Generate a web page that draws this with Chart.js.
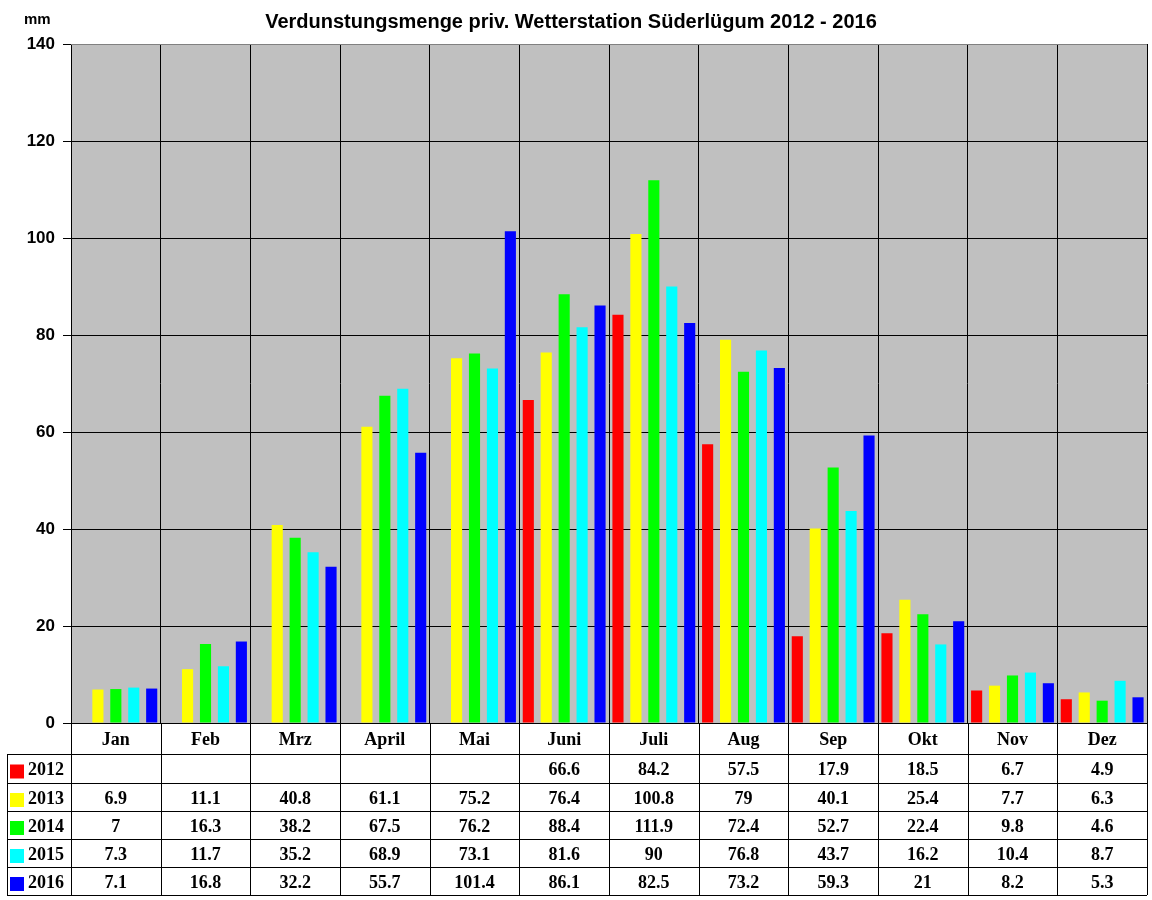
<!DOCTYPE html>
<html>
<head>
<meta charset="utf-8">
<script src="https://cdn.jsdelivr.net/npm/chart.js@4"></script>
<style>
  html, body { margin: 0; padding: 0; background: #fff; }
  #wrap { width: 1152px; height: 900px; }
</style>
</head>
<body>
<div id="wrap"><canvas id="chart" width="1152" height="900"></canvas></div>
<script>
const months = ['Jan', 'Feb', 'Mrz', 'April', 'Mai', 'Juni', 'Juli', 'Aug', 'Sep', 'Okt', 'Nov', 'Dez'];
const years = ['2012', '2013', '2014', '2015', '2016'];
const v2012 = [null, null, null, null, null, 66.6, 84.2, 57.5, 17.9, 18.5, 6.7, 4.9];
const v2013 = [6.9, 11.1, 40.8, 61.1, 75.2, 76.4, 100.8, 79, 40.1, 25.4, 7.7, 6.3];
const v2014 = [7, 16.3, 38.2, 67.5, 76.2, 88.4, 111.9, 72.4, 52.7, 22.4, 9.8, 4.6];
const v2015 = [7.3, 11.7, 35.2, 68.9, 73.1, 81.6, 90, 76.8, 43.7, 16.2, 10.4, 8.7];
const v2016 = [7.1, 16.8, 32.2, 55.7, 101.4, 86.1, 82.5, 73.2, 59.3, 21, 8.2, 5.3];
const colors = ['#FF0000', '#FFFF00', '#00FF00', '#00FFFF', '#0000FF'];
const yTicks = [0, 20, 40, 60, 80, 100, 120, 140];

const series = [v2012, v2013, v2014, v2015, v2016];
const titleText = 'Verdunstungsmenge priv. Wetterstation Süderlügum 2012 - 2016';
const serif = '"Liberation Serif", "Times New Roman", serif';
const sans = '"Liberation Sans", Arial, sans-serif';

// gray plot background + frame, title, unit
const plotBg = {
  id: 'plotBg',
  beforeDraw(chart) {
    const { ctx, chartArea: a } = chart;
    ctx.save();
    ctx.fillStyle = '#C0C0C0';
    ctx.fillRect(a.left, a.top, a.right - a.left, a.bottom - a.top);
    ctx.restore();
  },
  afterDraw(chart) {
    const { ctx, chartArea: a } = chart;
    ctx.save();
    ctx.strokeStyle = '#808080';
    ctx.lineWidth = 1;
    ctx.beginPath();
    ctx.moveTo(a.left, a.top + 0.5);
    ctx.lineTo(a.right, a.top + 0.5);
    ctx.stroke();
    ctx.fillStyle = '#000';
    ctx.font = 'bold 20px ' + sans;
    ctx.textAlign = 'center';
    ctx.textBaseline = 'middle';
    ctx.fillText(titleText, 571, 22);
    ctx.font = 'bold 15px ' + sans;
    ctx.textAlign = 'left';
    ctx.fillText('mm', 24, 20);
    ctx.restore();
  }
};

// data table under the axis
const dataTable = {
  id: 'dataTable',
  afterDraw(chart) {
    const { ctx, chartArea: a, scales: { x } } = chart;
    const colW = (a.right - a.left) / months.length;
    const rowTops = [754, 783, 811, 839, 867];
    const bottom = 895;
    ctx.save();
    ctx.strokeStyle = '#000';
    ctx.lineWidth = 1;
    ctx.beginPath();
    rowTops.concat([bottom]).forEach(y => {
      ctx.moveTo(7, y + 0.5);
      ctx.lineTo(a.right, y + 0.5);
    });
    for (let i = 0; i <= months.length; i++) {
      const xx = Math.round(a.left + i * colW) + 0.5;
      ctx.moveTo(xx, a.bottom);
      ctx.lineTo(xx, bottom);
    }
    ctx.moveTo(7.5, rowTops[0]);
    ctx.lineTo(7.5, bottom);
    ctx.stroke();

    ctx.font = 'bold 18px ' + serif;
    ctx.textBaseline = 'middle';
    series.forEach((vals, r) => {
      const yc = (rowTops[r] + (rowTops[r + 1] || bottom)) / 2 + 2;
      ctx.fillStyle = colors[r];
      ctx.fillRect(10, yc - 6, 14, 14);
      ctx.fillStyle = '#000';
      ctx.textAlign = 'left';
      ctx.fillText(years[r], 28, yc);
      ctx.textAlign = 'center';
      vals.forEach((v, i) => {
        if (v === null) return;
        ctx.fillText(String(v), x.getPixelForValue(i), yc);
      });
    });
    ctx.restore();
  }
};

new Chart(document.getElementById('chart'), {
  type: 'bar',
  data: {
    labels: months,
    datasets: series.map((vals, i) => ({
      label: years[i],
      data: vals,
      backgroundColor: colors[i],
      borderWidth: 0,
      categoryPercentage: 1.0,
      barPercentage: 0.62,
    })),
  },
  options: {
    responsive: false,
    devicePixelRatio: 1,
    animation: false,
    layout: { padding: { top: 44, right: 5, left: 0, bottom: 0 } },
    plugins: { legend: { display: false }, title: { display: false }, tooltip: { enabled: false } },
    scales: {
      x: {
        afterFit: s => { s.height = 177; },
        grid: { color: '#000', drawTicks: false, offset: true },
        border: { color: '#000' },
        ticks: {
          color: '#000',
          padding: 7,
          font: { family: serif, size: 18, weight: 'bold' },
        },
      },
      y: {
        min: 0,
        max: 140,
        afterFit: s => { s.width = 71; },
        afterBuildTicks: s => { s.ticks = yTicks.map(v => ({ value: v })); },
        grid: { color: '#000', tickColor: '#000', tickLength: 8 },
        border: { color: '#000' },
        ticks: {
          color: '#000',
          padding: 8,
          font: { family: sans, size: 17, weight: 'bold' },
        },
      },
    },
  },
  plugins: [plotBg, dataTable],
});
</script>
</body>
</html>
